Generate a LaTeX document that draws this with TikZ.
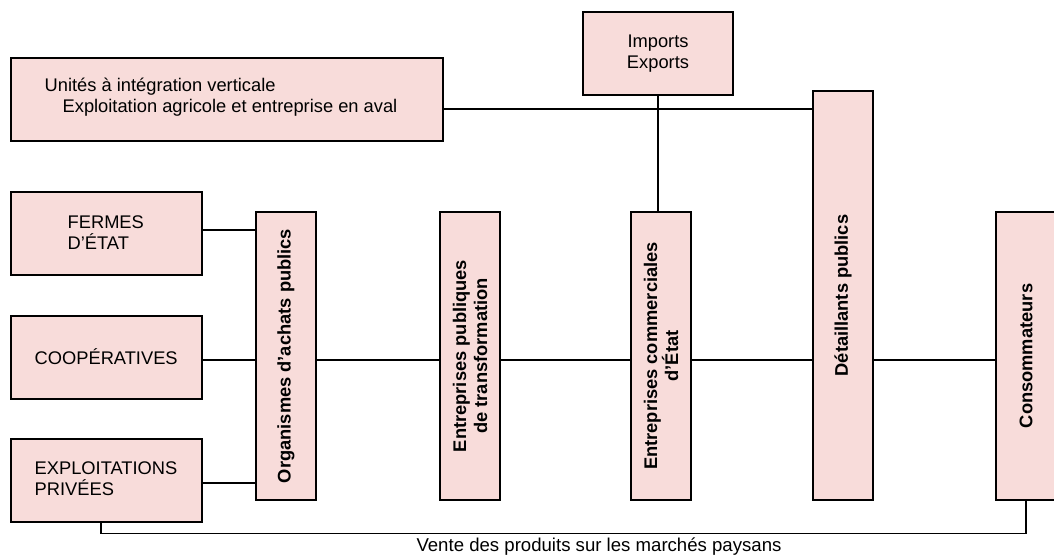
\documentclass[tikz,border=0pt]{standalone}
\usepackage{fontspec}
\setmainfont{Liberation Sans}
\definecolor{boxpink}{RGB}{248,220,218}
\tikzset{
  pbox/.style={draw=black, fill=boxpink, line width=1.1pt, inner sep=0pt, anchor=center},
  lbl/.style={inner sep=0pt, align=left, font=\fontsize{18.3}{21}\selectfont},
  vlbl/.style={inner sep=0pt, align=center, rotate=90, font=\fontsize{18.3}{21}\selectfont\bfseries},
  link/.style={draw=black, line width=1.1pt}
}
\begin{document}
\begin{tikzpicture}[x=1pt, y=-1pt]
\useasboundingbox (0,0) rectangle (1054,556);
% boxes
\node[pbox, minimum width=432pt, minimum height=83pt] (unit) at (227,99.5) {};
\node[pbox, minimum width=150pt, minimum height=83pt, align=center, font=\fontsize{18.3}{21}\selectfont] (imp) at (658,53.5) {Imports\\Exports};
\node[pbox, minimum width=191pt, minimum height=83pt] (fermes) at (106.5,233.5) {};
\node[pbox, minimum width=191pt, minimum height=83pt] (coop) at (106.5,357.5) {};
\node[pbox, minimum width=191pt, minimum height=83pt] (expl) at (106.5,480.5) {};
\node[pbox, minimum width=60pt, minimum height=288pt] (org) at (286,356) {};
\node[pbox, minimum width=60pt, minimum height=288pt] (ep) at (470,356) {};
\node[pbox, minimum width=60pt, minimum height=288pt] (ec) at (661,356) {};
\node[pbox, minimum width=60pt, minimum height=409pt] (det) at (843,295.5) {};
\node[pbox, minimum width=62pt, minimum height=288pt] (cons) at (1027,356) {};
% texts
\node[lbl, anchor=west] (unitT) at ([xshift=34pt,yshift=2pt]unit.west) {Unités à intégration verticale\\\hspace*{18pt}Exploitation agricole et entreprise en aval};
\node[lbl, anchor=west] (fermesT) at ([xshift=57pt,yshift=1pt]fermes.west) {FERMES\\D’ÉTAT};
\node[lbl, anchor=west] (coopT) at ([xshift=24pt,yshift=1pt]coop.west) {COOPÉRATIVES};
\node[lbl, anchor=west] (explT) at ([xshift=24pt,yshift=2pt]expl.west) {EXPLOITATIONS\\PRIVÉES};
\node[vlbl] (orgT) at (org.center) {Organismes d’achats publics};
\node[vlbl] (epT) at (ep.center) {Entreprises publiques\\de transformation};
\node[vlbl] (ecT) at (ec.center) {Entreprises commerciales\\d’État};
\node[vlbl] (detT) at (det.center) {Détaillants publics};
\node[vlbl] (consT) at ([xshift=-1pt]cons.center) {Consommateurs};
\node[lbl, align=center, font=\fontsize{18.6}{21}\selectfont] (vente) at (599,547) {Vente des produits sur les marchés paysans};
% connectors
\coordinate (mainy) at (0,360);
\draw[link] ([yshift=-9.5pt]unit.east) -- ([yshift=-9.5pt]unit.east -| det.west);
\draw[link] (imp.south) -- (imp.south |- ec.north);
\draw[link] ([yshift=3.5pt]fermes.east) -- ([yshift=3.5pt]fermes.east -| org.west);
\draw[link] (coop.east |- mainy) -- (org.west |- mainy);
\draw[link] (org.east |- mainy) -- (ep.west |- mainy);
\draw[link] (ep.east |- mainy) -- (ec.west |- mainy);
\draw[link] (ec.east |- mainy) -- (det.west |- mainy);
\draw[link] (det.east |- mainy) -- (cons.west |- mainy);
\draw[link] ([yshift=-2.5pt]expl.east) -- ([yshift=-2.5pt]expl.east -| org.west);
\draw[link] ([xshift=-5.5pt]expl.south) -- ++(0,11) -| ([xshift=-1pt]cons.south);
\end{tikzpicture}
\end{document}
